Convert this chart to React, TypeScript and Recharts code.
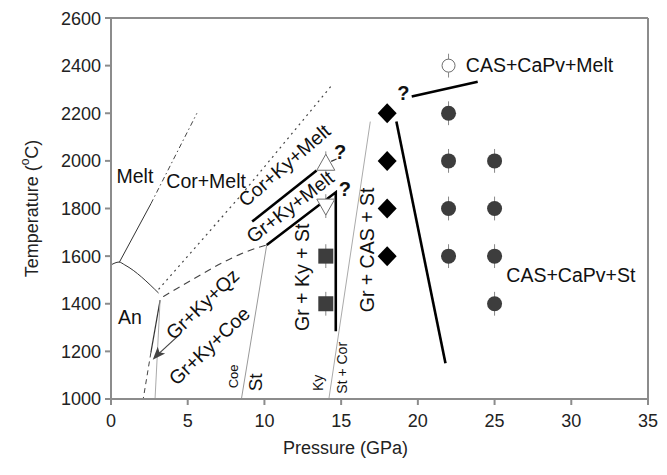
import React from 'react';
import { ComposedChart, XAxis, YAxis, Line, Scatter, ErrorBar, ReferenceLine } from 'recharts';

// ---------- axis ticks ----------
const xTicks = [0, 5, 10, 15, 20, 25, 30, 35];
const yTicks = [1000, 1200, 1400, 1600, 1800, 2000, 2200, 2400, 2600];

// ---------- experimental points (P GPa, T °C, error °C) ----------
const squarePts = [
  { x: 14, y: 1600, err: 50 },
  { x: 14, y: 1400, err: 50 },
];
const upTrianglePts = [{ x: 14, y: 1990, err: 50 }];
const downTrianglePts = [{ x: 14, y: 1810, err: 50 }];
const diamondPts = [
  { x: 18, y: 2200 },
  { x: 18, y: 2000 },
  { x: 18, y: 1800 },
  { x: 18, y: 1600 },
];
const circlePts = [
  { x: 22, y: 2200, err: 50 },
  { x: 22, y: 2000, err: 50 },
  { x: 22, y: 1800, err: 50 },
  { x: 22, y: 1600, err: 50 },
  { x: 25, y: 2000, err: 50 },
  { x: 25, y: 1800, err: 50 },
  { x: 25, y: 1600, err: 50 },
  { x: 25, y: 1400, err: 50 },
];
const openCirclePts = [{ x: 22, y: 2400, err: 50 }];

// ---------- phase boundaries ----------
const meltAnCurve = [
  { x: 0, y: 1563 },
  { x: 0.52, y: 1575 },
  { x: 0.9, y: 1563 },
  { x: 3.1, y: 1445 },
];
const meltCorSolid = [
  { x: 0.55, y: 1575 },
  { x: 2.6, y: 1820 },
];
const meltCorDashDot = [
  { x: 2.6, y: 1820 },
  { x: 5.6, y: 2200 },
];
const anQzSolid = [
  { x: 3.2, y: 1415 },
  { x: 2.6, y: 1195 },
];
const anCoeDashed = [
  { x: 2.6, y: 1195 },
  { x: 2.1, y: 1000 },
];
const qzCoeLine = [
  { x: 3.2, y: 1415 },
  { x: 2.87, y: 1000 },
];
const corKyDotted = [
  { x: 3.1, y: 1460 },
  { x: 8.4, y: 1850 },
  { x: 14.4, y: 2318 },
];
const kyMeltDashed = [
  { x: 3.4, y: 1430 },
  { x: 5.4, y: 1505 },
  { x: 7.2, y: 1570 },
  { x: 8.8, y: 1618 },
  { x: 10.15, y: 1647 },
];
const coeStLine = [
  { x: 10.15, y: 1647 },
  { x: 8.5, y: 1000 },
];
const kyStCorLine = [
  { x: 14.2, y: 1000 },
  { x: 16.9, y: 2165 },
];
const corKyMeltThick = [
  { x: 9.2, y: 1745 },
  { x: 13.4, y: 1960 },
];
const grKyMeltThick = [
  { x: 10.15, y: 1647 },
  { x: 14.65, y: 1868 },
  { x: 14.65, y: 1285 },
];
const casThick = [
  { x: 18.6, y: 2165 },
  { x: 21.8, y: 1150 },
];
const meltTopThick = [
  { x: 19.6, y: 2270 },
  { x: 23.9, y: 2332 },
];
const queryTick = [
  { x: 14.35, y: 1998 },
  { x: 14.7, y: 2008 },
];
const arrowShaft = [
  { x: 4.32, y: 1262 },
  { x: 2.85, y: 1175 },
];
const arrowTip = [{ x: 2.72, y: 1165 }];

// ---------- text labels ----------
const labelText = [
  'Melt', 'Cor+Melt', 'An', 'Gr+Ky+Qz', 'Gr+Ky+Coe', 'Cor+Ky+Melt', 'Gr+Ky+Melt',
  'Gr + Ky + St', 'Gr + CAS + St', 'CAS+CaPv+Melt', 'CAS+CaPv+St',
  'Coe', 'St', 'Ky', 'St + Cor', '?', '?', '?',
];
const labelX = [1.56, 6.2, 1.24, 5.96, 6.4, 11.29, 11.67, 12.43, 16.67, 27.93, 29.97, 7.97, 9.39, 13.51, 15.04, 19.06, 14.93, 15.25];
const labelY = [1935, 1914, 1345, 1399, 1224, 1982, 1808, 1511, 1626, 2402, 1521, 1095, 1070, 1068, 1131, 2283, 2038, 1882];

// styles for labels (parallel to the label arrays)
const LBL_ANGLE = [0, 0, 0, -43.5, -43.7, -40.9, -37.6, -90, -90, 0, 0, -90, -90, -90, -90, 0, 0, 0];
const LBL_SIZE = [19.5, 19.5, 19.5, 19.5, 19.5, 19.5, 19.5, 19.5, 19.5, 19.5, 19.5, 13, 19, 14, 14, 20, 20, 20];
const LBL_BOLD = [0, 0, 0, 0, 0, 0, 0, 0, 0, 0, 0, 0, 0, 0, 0, 1, 1, 1];

const labelTable = labelText.map((t, i) => ({ text: t, x: labelX[i], y: labelY[i], idx: i }));

const FONT = '"Liberation Sans", Arial, Helvetica, sans-serif';
const AXIS_GRAY = '#8c8c8c';

const SquareShape = (p: any) => (
  <rect x={p.cx - 7.5} y={p.cy - 7.5} width={15} height={15} fill="#3d3d3d" />
);
const DiamondShape = (p: any) => (
  <polygon
    points={`${p.cx},${p.cy - 10} ${p.cx + 9.5},${p.cy} ${p.cx},${p.cy + 10} ${p.cx - 9.5},${p.cy}`}
    fill="#000"
  />
);
const CircleShape = (p: any) => <circle cx={p.cx} cy={p.cy} r={7.5} fill="#3d3d3d" />;
const OpenCircleShape = (p: any) => (
  <circle cx={p.cx} cy={p.cy} r={6.5} fill="#fff" stroke="#6e6e6e" strokeWidth={1} />
);
const UpTriShape = (p: any) => (
  <polygon
    points={`${p.cx},${p.cy - 9} ${p.cx + 9},${p.cy + 7} ${p.cx - 9},${p.cy + 7}`}
    fill="#fff"
    stroke="#6e6e6e"
    strokeWidth={1}
  />
);
const DownTriShape = (p: any) => (
  <polygon
    points={`${p.cx - 9},${p.cy - 7} ${p.cx + 9},${p.cy - 7} ${p.cx},${p.cy + 9}`}
    fill="#fff"
    stroke="#6e6e6e"
    strokeWidth={1}
  />
);
const ArrowHeadShape = (p: any) => (
  <polygon
    points="0,0 -13,-5 -10,0 -13,5"
    fill="#444"
    transform={`translate(${p.cx},${p.cy}) rotate(132)`}
  />
);
const LabelShape = (p: any) => {
  const i = p.payload.idx;
  const a = LBL_ANGLE[i];
  return (
    <text
      x={p.cx}
      y={p.cy}
      textAnchor="middle"
      dominantBaseline="central"
      fontSize={LBL_SIZE[i]}
      fontWeight={LBL_BOLD[i] ? 'bold' : 'normal'}
      fontFamily={FONT}
      fill="#111"
      transform={a ? `rotate(${a} ${p.cx} ${p.cy})` : undefined}
    >
      {p.payload.text}
    </text>
  );
};

const YTitle = (props: any) => {
  const vb = props.viewBox || { x: 0, y: 10, width: 103, height: 381 };
  const cx = vb.x + 24;
  const cy = vb.y + vb.height / 2;
  return (
    <text
      x={cx}
      y={cy}
      transform={`rotate(-90 ${cx} ${cy})`}
      textAnchor="middle"
      dominantBaseline="central"
      fontSize={18}
      fontFamily={FONT}
      fill="#222"
    >
      Temperature (
      <tspan fontSize={12} dy={-7}>o</tspan>
      <tspan dy={7}>C)</tspan>
    </text>
  );
};
const XTitle = (props: any) => {
  const vb = props.viewBox || { x: 103, y: 391, width: 537, height: 76 };
  const cx = vb.x + vb.width / 2 - 34;
  const cy = 440;
  return (
    <text x={cx} y={cy} textAnchor="middle" dominantBaseline="central" fontSize={18} fontFamily={FONT} fill="#222">
      Pressure (GPa)
    </text>
  );
};

const L = (data: any[], stroke: string, width: number, dash?: string, type: any = 'linear') => (
  <Line
    data={data}
    dataKey="y"
    type={type}
    stroke={stroke}
    strokeWidth={width}
    strokeDasharray={dash}
    dot={false}
    activeDot={false}
    isAnimationActive={false}
    legendType="none"
  />
);

export default function App() {
  return (
    <ComposedChart width={659} height={467} margin={{ top: 10, right: 19, bottom: 0, left: 0 }}>
      <XAxis
        dataKey="x"
        type="number"
        domain={[0, 35]}
        ticks={xTicks}
        allowDataOverflow
        height={76}
        stroke={AXIS_GRAY}
        strokeWidth={2}
        tickSize={6}
        tickMargin={9}
        tick={{ fontSize: 18, fill: '#222', fontFamily: FONT }}
        label={<XTitle />}
      />
      <YAxis
        dataKey="y"
        type="number"
        domain={[1000, 2600]}
        ticks={yTicks}
        allowDataOverflow
        width={103}
        stroke={AXIS_GRAY}
        strokeWidth={2}
        tickSize={6}
        tickMargin={4}
        tick={{ fontSize: 18, fill: '#222', fontFamily: FONT }}
        label={<YTitle />}
      />
      <ReferenceLine y={2600} stroke={AXIS_GRAY} strokeWidth={2} />
      <ReferenceLine x={35} stroke={AXIS_GRAY} strokeWidth={2} />

      {L(meltAnCurve, '#333', 1, undefined, 'monotone')}
      {L(meltCorSolid, '#333', 1)}
      {L(meltCorDashDot, '#444', 1, '5 3 1.5 3')}
      {L(anQzSolid, '#333', 1.2)}
      {L(anCoeDashed, '#444', 1, '5 4')}
      {L(qzCoeLine, '#aaa', 1)}
      {L(corKyDotted, '#444', 1.2, '2 4')}
      {L(kyMeltDashed, '#444', 1.1, '7 5', 'monotone')}
      {L(coeStLine, '#999', 1)}
      {L(kyStCorLine, '#aaa', 1)}
      {L(corKyMeltThick, '#000', 2.6)}
      {L(grKyMeltThick, '#000', 2.6)}
      {L(casThick, '#000', 2.6)}
      {L(meltTopThick, '#000', 2.6)}
      {L(queryTick, '#333', 1.2)}
      {L(arrowShaft, '#444', 1.2)}

      <Scatter data={arrowTip} dataKey="y" shape={ArrowHeadShape} isAnimationActive={false} legendType="none" />

      <Scatter data={squarePts} dataKey="y" shape={SquareShape} isAnimationActive={false} legendType="none">
        <ErrorBar dataKey="err" direction="y" width={0} stroke="#888" strokeWidth={1} />
      </Scatter>
      <Scatter data={upTrianglePts} dataKey="y" shape={UpTriShape} isAnimationActive={false} legendType="none">
        <ErrorBar dataKey="err" direction="y" width={0} stroke="#888" strokeWidth={1} />
      </Scatter>
      <Scatter data={downTrianglePts} dataKey="y" shape={DownTriShape} isAnimationActive={false} legendType="none">
        <ErrorBar dataKey="err" direction="y" width={0} stroke="#888" strokeWidth={1} />
      </Scatter>
      <Scatter data={diamondPts} dataKey="y" shape={DiamondShape} isAnimationActive={false} legendType="none" />
      <Scatter data={circlePts} dataKey="y" shape={CircleShape} isAnimationActive={false} legendType="none">
        <ErrorBar dataKey="err" direction="y" width={0} stroke="#888" strokeWidth={1} />
      </Scatter>
      <Scatter data={openCirclePts} dataKey="y" shape={OpenCircleShape} isAnimationActive={false} legendType="none">
        <ErrorBar dataKey="err" direction="y" width={0} stroke="#888" strokeWidth={1} />
      </Scatter>

      <Scatter data={labelTable} dataKey="y" shape={LabelShape} isAnimationActive={false} legendType="none" />
    </ComposedChart>
  );
}
